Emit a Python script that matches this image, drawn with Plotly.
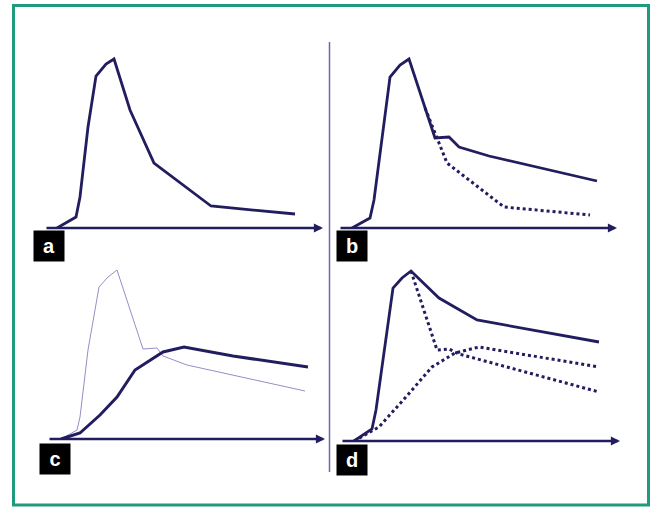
import plotly.graph_objects as go

W, H = 652, 507
NAVY = "#211d5f"
THIN = "#9290c8"

# ---- data (time units, concentration units) ----
a_t = [1.2, 3.1, 3.5, 4.3, 5.1, 6.1, 6.9, 8.5, 10.9, 16.6, 25.0]
a_c = [0.0, 1.1, 3.1, 10.1, 15.2, 16.4, 16.9, 11.8, 6.5, 2.2, 1.4]

b_solid_t = [1.3, 3.1, 3.5, 5.1, 6.1, 7.0, 9.6, 11.0, 12.0, 15.0, 25.8]
b_solid_c = [0.0, 1.0, 2.8, 15.1, 16.3, 16.9, 9.0, 9.1, 8.1, 7.2, 4.7]
b_dot_t = [8.6, 10.8, 16.5, 25.1]
b_dot_c = [12.0, 6.5, 2.1, 1.3]

c_thick_t = [1.3, 3.2, 5.2, 6.9, 8.7, 11.5, 13.6, 18.5, 26.0]
c_thick_c = [0.0, 0.6, 2.4, 4.2, 6.9, 8.7, 9.2, 8.3, 7.2]
c_thin_t = [1.3, 2.9, 3.2, 4.0, 5.1, 6.0, 6.9, 9.5, 10.9, 11.5, 13.9, 25.7]
c_thin_c = [0.0, 0.9, 2.2, 8.9, 15.2, 16.2, 16.9, 9.0, 9.1, 8.3, 7.4, 4.8]

d_solid_t = [1.3, 3.1, 3.5, 5.2, 6.1, 7.0, 9.8, 13.6, 25.8]
d_solid_c = [0.0, 1.2, 3.1, 15.3, 16.3, 17.0, 14.3, 12.1, 9.9]
d_dot1_t = [7.0, 9.6, 10.8, 11.8, 25.8]
d_dot1_c = [17.0, 9.1, 9.2, 8.7, 4.9]
d_dot2_t = [1.3, 3.8, 6.4, 9.1, 11.4, 13.8, 25.8]
d_dot2_c = [0.0, 1.4, 4.3, 7.4, 8.8, 9.4, 7.4]

panel_labels = ["a", "b", "c", "d"]

# ---- layout geometry (pixels) ----
# (x_left, x_right(arrow tip), y_axis, y_top)
panels = [
    (45, 323, 228, 40),
    (339, 617, 228, 40),
    (48, 325, 439, 251),
    (341, 620, 441, 253),
]
label_boxes = [(33, 230), (336, 230), (39, 443), (336, 444)]

fig = go.Figure()

def add(idx, t, c, width, color, dash="solid"):
    sfx = "" if idx == 0 else str(idx + 1)
    fig.add_trace(go.Scatter(x=t, y=c, mode="lines", xaxis="x" + sfx, yaxis="y" + sfx,
                             line=dict(color=color, width=width, dash=dash),
                             hoverinfo="skip"))

add(0, a_t, a_c, 2.8, NAVY)
add(1, b_dot_t, b_dot_c, 3, NAVY, "dot")
add(1, b_solid_t, b_solid_c, 2.8, NAVY)
add(2, c_thin_t, c_thin_c, 1, THIN)
add(2, c_thick_t, c_thick_c, 3, NAVY)
add(3, d_dot1_t, d_dot1_c, 3, NAVY, "dot")
add(3, d_dot2_t, d_dot2_c, 3, NAVY, "dot")
add(3, d_solid_t, d_solid_c, 2.8, NAVY)

layout = dict(width=W, height=H, margin=dict(l=0, r=0, t=0, b=0),
              paper_bgcolor="white", plot_bgcolor="white", showlegend=False)
annotations = []
for i, (xl, xr, ya, yt) in enumerate(panels):
    sfx = "" if i == 0 else str(i + 1)
    L = (xr - xl) / 10.0
    Ht = (ya - yt) / 10.0
    layout["xaxis" + sfx] = dict(domain=[xl / W, xr / W], range=[0, L], visible=False,
                                 anchor="y" + sfx, fixedrange=True)
    layout["yaxis" + sfx] = dict(domain=[1 - ya / H, 1 - yt / H], range=[0, Ht], visible=False,
                                 anchor="x" + sfx, fixedrange=True)
    annotations.append(dict(x=L, y=0, ax=0, ay=0, xref="x" + sfx, yref="y" + sfx,
                            axref="x" + sfx, ayref="y" + sfx, showarrow=True, text="",
                            arrowhead=2, arrowsize=0.7, arrowwidth=2.6, arrowcolor=NAVY,
                            standoff=0, startstandoff=0))
    bx, by = label_boxes[i]
    annotations.append(dict(x=bx / W, y=1 - by / H, xref="paper", yref="paper",
                            xanchor="left", yanchor="top", showarrow=False,
                            text="<b>%s</b>" % panel_labels[i], width=30, height=30,
                            bgcolor="black", borderpad=0, align="center", valign="middle",
                            font=dict(family="Liberation Sans, Arial, sans-serif", size=20,
                                      color="white")))
layout["annotations"] = annotations
layout["shapes"] = [
    dict(type="rect", xref="paper", yref="paper", x0=13.5 / W, x1=648.5 / W,
         y0=1 - 505 / H, y1=1 - 5.5 / H, line=dict(color="#1f9a7d", width=3)),
    dict(type="line", xref="paper", yref="paper", x0=329.5 / W, x1=329.5 / W,
         y0=1 - 472 / H, y1=1 - 42 / H, line=dict(color="#6b68b0", width=1.5)),
]
fig.update_layout(**layout)
fig.write_html("out.html", config={"displayModeBar": False},
               post_script="document.body.style.margin='0';document.body.style.overflow='hidden';")
